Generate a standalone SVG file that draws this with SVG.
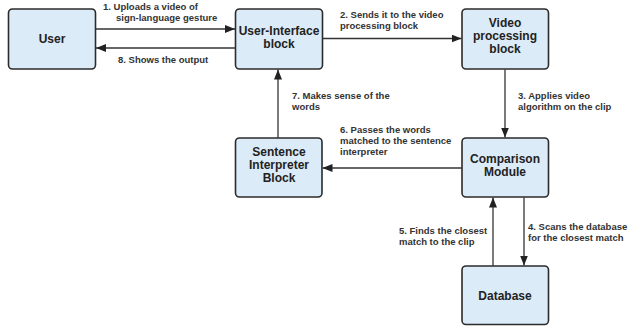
<svg xmlns="http://www.w3.org/2000/svg" width="629" height="326" viewBox="0 0 629 326">
<defs>
<marker id="ah" viewBox="0 0 10 8" refX="10" refY="4" markerWidth="10" markerHeight="8" markerUnits="userSpaceOnUse" orient="auto">
<path d="M0,0 L10,4 L0,8 Z" fill="#222"/>
</marker>
</defs>
<style>
.box{fill:#dcebf8;stroke:#2b2b2b;stroke-width:1.6}
.bt{font-family:"Liberation Sans",Arial,sans-serif;font-weight:bold;font-size:12px;fill:#222;text-anchor:middle}
.lt{font-family:"Liberation Sans",Arial,sans-serif;font-weight:bold;font-size:9.5px;fill:#333}
.ln{stroke:#333;stroke-width:1.3;fill:none;marker-end:url(#ah)}
</style>
<rect width="629" height="326" fill="#fff"/>
<g id="user"><rect class="box" x="8.5" y="9" width="87" height="60" rx="4"/><text class="bt" x="52" y="43">User</text></g>
<g id="ui"><rect class="box" x="235.5" y="9" width="87" height="60" rx="4"/><text class="bt" x="279" y="35">User-Interface</text><text class="bt" x="279" y="48">block</text></g>
<g id="video"><rect class="box" x="462" y="9" width="86.5" height="60" rx="4"/><text class="bt" x="505" y="27">Video</text><text class="bt" x="505" y="40">processing</text><text class="bt" x="505" y="53">block</text></g>
<g id="sentence"><rect class="box" x="235.5" y="138" width="86.5" height="59" rx="4"/><text class="bt" x="279" y="156">Sentence</text><text class="bt" x="279" y="169">Interpreter</text><text class="bt" x="279" y="182">Block</text></g>
<g id="comparison"><rect class="box" x="462" y="138" width="86.5" height="59" rx="4"/><text class="bt" x="505" y="163">Comparison</text><text class="bt" x="505" y="176">Module</text></g>
<g id="database"><rect class="box" x="462" y="266" width="86.5" height="58.5" rx="4"/><text class="bt" x="505" y="300">Database</text></g>
<g id="connectors">
<line class="ln" x1="96" y1="29" x2="235" y2="29"/>
<line class="ln" x1="235" y1="48" x2="96" y2="48"/>
<line class="ln" x1="323" y1="38.5" x2="461.5" y2="38.5"/>
<line class="ln" x1="505" y1="69.5" x2="505" y2="137.5"/>
<line class="ln" x1="524" y1="197.5" x2="524" y2="265.5"/>
<line class="ln" x1="493" y1="266" x2="493" y2="197.5"/>
<line class="ln" x1="462" y1="168" x2="322.5" y2="168"/>
<line class="ln" x1="278" y1="138" x2="278" y2="69.5"/>
</g>
<g id="labels">
<text class="lt" x="103" y="10">1. Uploads a video of</text>
<text class="lt" x="116" y="21">sign-language gesture</text>
<text class="lt" x="118" y="63">8. Shows the output</text>
<text class="lt" x="340" y="18">2. Sends it to the video</text>
<text class="lt" x="340" y="29">processing block</text>
<text class="lt" x="518" y="99">3. Applies video</text>
<text class="lt" x="518" y="110">algorithm on the clip</text>
<text class="lt" x="292" y="99">7. Makes sense of the</text>
<text class="lt" x="292" y="110">words</text>
<text class="lt" x="340" y="133">6. Passes the words</text>
<text class="lt" x="340" y="144">matched to the sentence</text>
<text class="lt" x="340" y="155">interpreter</text>
<text class="lt" x="399" y="234">5. Finds the closest</text>
<text class="lt" x="399" y="245">match to the clip</text>
<text class="lt" x="528" y="230">4. Scans the database</text>
<text class="lt" x="528" y="241">for the closest match</text>
</g>
</svg>
